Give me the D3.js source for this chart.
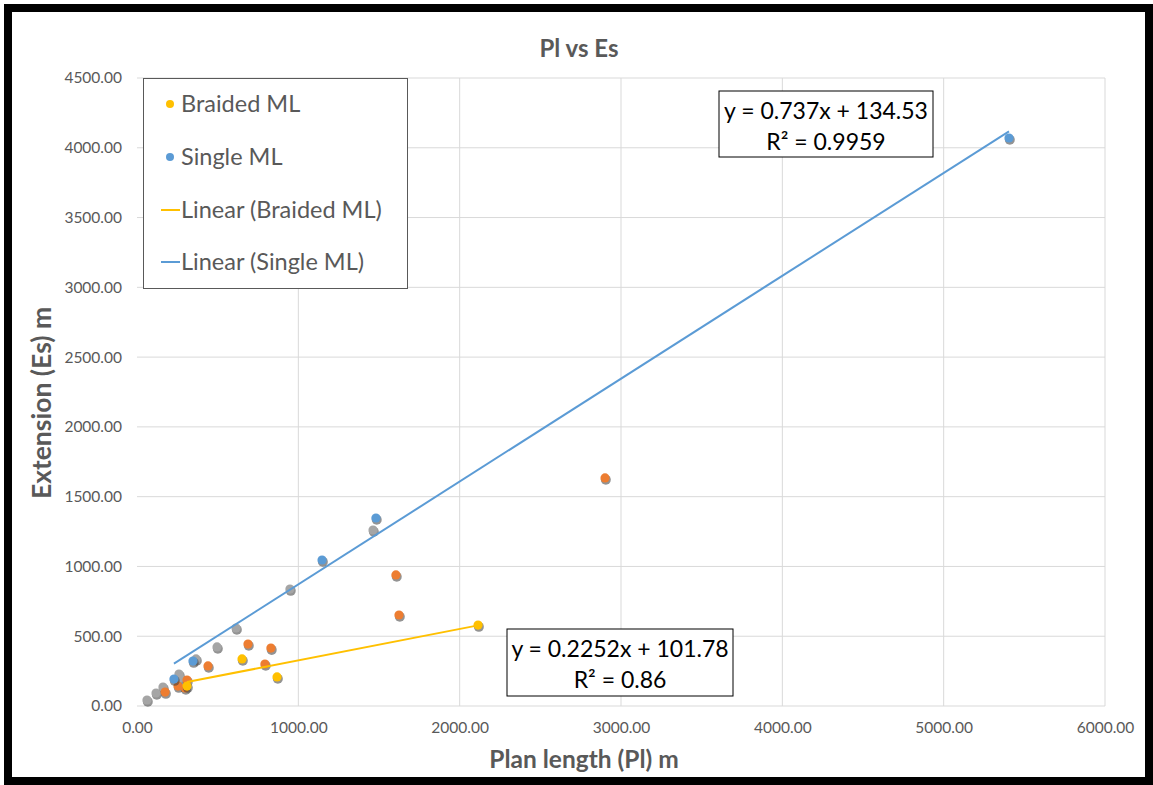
<!DOCTYPE html>
<html><head><meta charset="utf-8">
<script src="https://cdn.jsdelivr.net/npm/d3@7"></script>
<style>body{margin:0;background:#fff;} text{font-family:Lato, "Open Sans", sans-serif;}</style>
</head><body>
<svg id="chart" width="1153" height="785"></svg>
<script>
// Data (Plan length, Extension)
const braidedX = [310, 651, 868, 2114];
const braidedY = [143, 337, 208, 580];
const singleX = [229, 347, 1147, 1481, 5405];
const singleY = [193, 322, 1046, 1347, 4070];
const orangeX = [174, 254, 298, 310, 440, 688, 793, 830, 1605, 1624, 2901];
const orangeY = [100, 143, 129, 186, 287, 444, 301, 415, 939, 652, 1634];
const grayX = [62, 118, 161, 260, 267, 366, 496, 614, 948, 1463];
const grayY = [43, 93, 136, 229, 201, 337, 423, 559, 838, 1261];
const braidedFit = {slope: 0.2252, intercept: 101.78, r2: "0.86"};
const singleFit = {slope: 0.737, intercept: 134.53, r2: "0.9959"};
const xTicks = [0, 1000, 2000, 3000, 4000, 5000, 6000];
const yTicks = [0, 500, 1000, 1500, 2000, 2500, 3000, 3500, 4000, 4500];
const legendLabels = ["Braided ML", "Single ML", "Linear (Braided ML)", "Linear (Single ML)"];

const C = {yellow: "#FFC000", blue: "#5B9BD5", orange: "#ED7D31", gray: "#A5A5A5", text: "#595959", grid: "#D9D9D9"};
const svg = d3.select("#chart");
const x = d3.scaleLinear().domain([0, 6000]).range([137, 1105]);
const y = d3.scaleLinear().domain([0, 4500]).range([706, 78]);

// outer frame
svg.append("rect").attr("x", 8).attr("y", 8).attr("width", 1141).attr("height", 773)
  .attr("fill", "#fff").attr("stroke", "#000").attr("stroke-width", 8);

// gridlines
svg.append("g").selectAll("line").data(yTicks).join("line")
  .attr("x1", x(0)).attr("x2", x(6000)).attr("y1", d => y(d)).attr("y2", d => y(d))
  .attr("stroke", C.grid).attr("stroke-width", 1);
svg.append("g").selectAll("line").data(xTicks.slice(1)).join("line")
  .attr("x1", d => x(d)).attr("x2", d => x(d)).attr("y1", y(0)).attr("y2", y(4500))
  .attr("stroke", C.grid).attr("stroke-width", 1);

// axes labels via d3 axes
const fmt = d3.format(".2f");
const xAxis = svg.append("g").attr("transform", `translate(0,${y(0)})`)
  .call(d3.axisBottom(x).tickValues(xTicks).tickFormat(fmt).tickSize(0).tickPadding(16));
const yAxis = svg.append("g").attr("transform", `translate(${x(0)},0)`)
  .call(d3.axisLeft(y).tickValues(yTicks).tickFormat(fmt).tickSize(0).tickPadding(15));
[xAxis, yAxis].forEach(a => {
  a.select(".domain").remove();
  a.selectAll("text").attr("fill", C.text).style("font-size", "15.5px").style("font-family", "Lato, sans-serif");
});

// title & axis titles
svg.append("text").attr("x", 579).attr("y", 57).attr("text-anchor", "middle")
  .attr("fill", C.text).style("font-size", "24px").style("font-weight", "bold").text("Pl vs Es");
svg.append("text").attr("x", 584).attr("y", 768).attr("text-anchor", "middle")
  .attr("fill", C.text).style("font-size", "24.5px").style("font-weight", "bold").text("Plan length (Pl) m");
svg.append("text").attr("transform", "translate(51,403) rotate(-90)").attr("text-anchor", "middle")
  .attr("fill", C.text).style("font-size", "26.5px").style("font-weight", "bold").text("Extension (Es) m");

// trendlines
function trend(xs, fit, color) {
  const ext = d3.extent(xs);
  svg.append("line").attr("x1", x(ext[0])).attr("x2", x(ext[1]))
    .attr("y1", y(fit.slope * ext[0] + fit.intercept)).attr("y2", y(fit.slope * ext[1] + fit.intercept))
    .attr("stroke", color).attr("stroke-width", 2);
}

// points with shadow
function pts(xs, ys, color) {
  const data = xs.map((v, i) => [v, ys[i]]);
  const g = svg.append("g");
  g.selectAll("circle.s").data(data).join("circle").attr("class", "s")
    .attr("cx", d => x(d[0]) + 0.8).attr("cy", d => y(d[1]) + 1.8).attr("r", 5)
    .attr("fill", "#3a3a3a").attr("opacity", 0.55);
  g.selectAll("circle.p").data(data).join("circle").attr("class", "p")
    .attr("cx", d => x(d[0])).attr("cy", d => y(d[1])).attr("r", 4.6).attr("fill", color);
}
pts(grayX, grayY, C.gray);
pts(orangeX, orangeY, C.orange);
trend(singleX, singleFit, C.blue);
trend(braidedX, braidedFit, C.yellow);
pts(singleX, singleY, C.blue);
pts(braidedX, braidedY, C.yellow);

// equation boxes
function eqBox(bx, by, bw, bh, fit) {
  svg.append("rect").attr("x", bx).attr("y", by).attr("width", bw).attr("height", bh)
    .attr("fill", "#fff").attr("stroke", "#000").attr("stroke-width", 1);
  const cx = bx + bw / 2;
  svg.append("text").attr("x", cx).attr("y", by + 28).attr("text-anchor", "middle")
    .attr("fill", "#000").style("font-size", "23px")
    .text(`y = ${fit.slope}x + ${fit.intercept}`);
  svg.append("text").attr("x", cx).attr("y", by + 59).attr("text-anchor", "middle")
    .attr("fill", "#000").style("font-size", "23px").text(`R² = ${fit.r2}`);
}
eqBox(719, 91, 214, 66, singleFit);
eqBox(507, 629, 226, 67, braidedFit);

// legend
const lg = svg.append("g");
lg.append("rect").attr("x", 143.5).attr("y", 78.5).attr("width", 264).attr("height", 210)
  .attr("fill", "#fff").attr("stroke", C.text).attr("stroke-width", 1);
const legendColors = [C.yellow, C.blue, C.yellow, C.blue];
const legendY = [104, 157, 210, 262];
legendLabels.forEach((lab, i) => {
  if (i < 2) lg.append("circle").attr("cx", 170).attr("cy", legendY[i]).attr("r", 4).attr("fill", legendColors[i]);
  else lg.append("line").attr("x1", 161).attr("x2", 180).attr("y1", legendY[i]).attr("y2", legendY[i])
    .attr("stroke", legendColors[i]).attr("stroke-width", 2);
  lg.append("text").attr("x", 181).attr("y", legendY[i] + 8).attr("fill", C.text)
    .style("font-size", "23.5px").text(lab);
});
</script>
</body></html>
